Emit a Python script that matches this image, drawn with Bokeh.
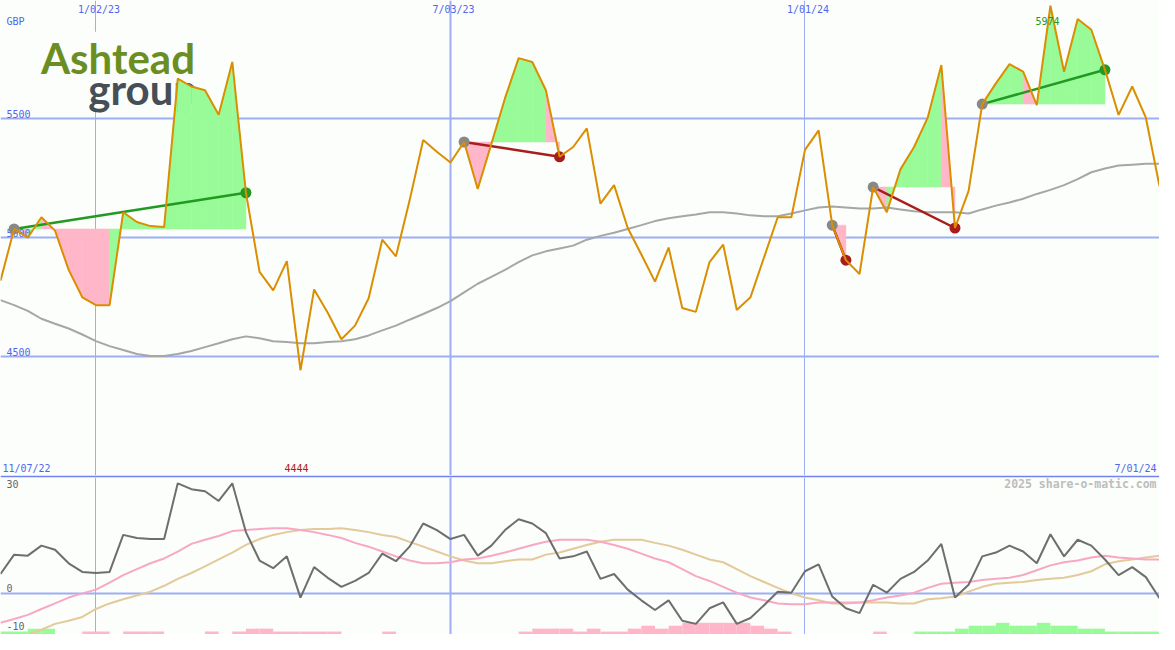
import pandas as pd
from bokeh.plotting import figure
from bokeh.models import Range1d
from bokeh.layouts import column
from bokeh.embed import file_html
from bokeh.resources import INLINE
from bokeh.core.properties import value

# ---------------- data (weekly closes, GBp) ----------------
first_week = "2022-11-14"
price = [4820, 5037, 5000, 5086, 5030, 4865, 4750, 4717, 4717, 5107,
         5066, 5049, 5045, 5668, 5635, 5619, 5516, 5738, 5189, 4857,
         4779, 4902, 4444, 4783, 4685, 4574, 4631, 4746, 4992, 4922,
         5156, 5410, 5361, 5316, 5402, 5205, 5394, 5586, 5754, 5738,
         5619, 5340, 5381, 5459, 5143, 5221, 5041, 4930, 4816, 4959,
         4705, 4689, 4898, 4971, 4697, 4750, 4918, 5086, 5086, 5369,
         5451, 5053, 4906, 4848, 5213, 5107, 5287, 5381, 5504, 5725,
         5041, 5197, 5561, 5648, 5729, 5697, 5557, 5974, 5697, 5918,
         5873, 5705, 5516, 5635, 5504, 5217]
moving_avg = [4738, 4717, 4693, 4660, 4639, 4619, 4594, 4566, 4545, 4529,
              4512, 4504, 4504, 4512, 4525, 4541, 4557, 4574, 4586, 4578,
              4566, 4562, 4557, 4557, 4562, 4566, 4574, 4590, 4611, 4631,
              4656, 4680, 4705, 4734, 4771, 4807, 4836, 4865, 4898, 4926,
              4943, 4955, 4967, 4992, 5008, 5021, 5037, 5053, 5070, 5082,
              5090, 5098, 5107, 5107, 5102, 5094, 5090, 5090, 5102, 5115,
              5127, 5131, 5127, 5123, 5123, 5127, 5119, 5111, 5107, 5107,
              5107, 5102, 5119, 5135, 5148, 5164, 5184, 5201, 5221, 5246,
              5275, 5291, 5303, 5307, 5311, 5311]
oscillator = [5.5, 11.1, 10.8, 13.7, 12.5, 8.6, 6.1, 5.8, 6.1, 16.8,
              15.9, 15.6, 15.6, 31.7, 30.0, 29.4, 26.6, 31.7, 17.6, 9.4,
              7.2, 10.6, -1.3, 7.5, 4.4, 1.8, 3.5, 5.8, 11.4, 9.2,
              13.4, 20.1, 18.2, 15.6, 16.8, 10.8, 13.7, 18.2, 21.3, 20.1,
              17.3, 10.0, 10.6, 12.0, 4.1, 5.5, 1.0, -2.1, -4.9, -2.1,
              -8.0, -8.9, -4.4, -2.7, -8.9, -7.2, -3.5, 0.4, 0.1, 6.3,
              8.3, -1.0, -4.4, -5.8, 2.4, 0.1, 4.1, 6.1, 9.4, 14.2,
              -1.3, 2.4, 10.6, 11.7, 13.7, 12.0, 8.6, 17.0, 10.6, 15.4,
              13.7, 9.7, 5.2, 7.5, 4.6, -1.5]
signal_fast = [-8.6, -7.5, -6.3, -4.6, -3.0, -1.3, -0.1, 1.0, 3.0, 5.2,
               6.9, 8.6, 10.0, 12.0, 14.2, 15.4, 16.5, 17.9, 18.2, 18.5,
               18.7, 18.7, 18.2, 17.6, 16.8, 15.9, 14.5, 13.4, 12.0, 10.6,
               9.4, 8.6, 8.6, 8.9, 9.7, 10.0, 10.8, 11.7, 12.8, 13.9,
               14.8, 15.4, 15.4, 15.4, 14.8, 13.9, 12.8, 11.4, 10.0, 8.9,
               6.9, 4.9, 3.5, 1.8, 0.1, -1.3, -2.1, -3.0, -3.2, -3.2,
               -2.7, -2.7, -2.7, -2.7, -2.1, -1.3, -0.7, 0.1, 1.5, 2.7,
               3.0, 3.2, 3.8, 4.1, 4.4, 5.2, 6.6, 8.0, 8.9, 9.4,
               10.3, 10.8, 10.3, 10.0, 9.7, 9.7]
signal_slow = [-14.8, -13.4, -12.0, -10.6, -8.9, -8.0, -6.9, -4.6, -3.0, -1.8,
               -0.7, 0.4, 2.1, 4.1, 5.8, 7.7, 9.7, 11.7, 13.9, 15.6,
               16.8, 17.6, 18.2, 18.5, 18.5, 18.7, 18.2, 17.6, 16.8, 16.2,
               14.8, 13.4, 12.0, 10.6, 9.4, 8.6, 8.6, 9.2, 9.7, 9.7,
               11.1, 11.7, 12.8, 13.9, 14.8, 15.4, 15.4, 15.4, 14.5, 13.7,
               12.5, 11.1, 9.7, 8.9, 6.9, 4.9, 3.2, 1.5, -0.1, -1.3,
               -2.1, -3.0, -3.0, -2.7, -2.7, -2.7, -3.0, -3.0, -1.8, -1.5,
               -1.0, 0.4, 1.8, 2.7, 3.0, 3.2, 3.8, 4.1, 4.4, 5.2,
               6.3, 8.3, 9.2, 9.7, 10.3, 10.8]
histogram = [1, 1, 2, 2, 0, 0, -1, -1, 0, -1,
             -1, -1, 0, 0, 0, -1, 0, -1, -2, -2,
             -1, -1, -1, -1, -1, 0, 0, 0, -1, 0,
             0, 0, 0, 0, 0, 0, 0, 0, -1, -2,
             -2, -2, -1, -2, -1, -1, -2, -3, -2, -3,
             -4, -4, -4, -4, -4, -3, -2, -1, 0, 0,
             0, 0, 0, 0, -1, 0, 0, 1, 1, 1,
             2, 3, 3, 4, 3, 3, 4, 3, 3, 2,
             2, 1, 1, 1, 1, 1]
signal_start = [1, 34, 61, 64, 72]
signal_end = [18, 41, 62, 70, 81]
price_grid = [4500, 5000, 5500]
price_grid_labels = ["4500", "5000", "5500"]
date_grid = ["2023-01-02", "2023-07-03", "2024-01-01"]
date_grid_labels = ["1/02/23", "7/03/23", "1/01/24"]
osc_grid = [0]
osc_label_values = [30, 0, -10]
osc_labels = ["30", "0", "-10"]
start_label = "11/07/22"
end_label = "7/01/24"
currency = "GBP"
logo_words = ["Ashtead", "group"]
credit = "2025 share-o-matic.com"

# ---------------- styling ----------------
BG = "#fbfefb"
GRID = "#9eaef5"
DIV = "#7282f0"
BLUE_TXT = "#5066ee"
ORANGE = "#db8e00"
MA_GREY = "#a6a6a6"
FILL_UP = "#98fb98"
FILL_DN = "#ffb6c8"
UP_COL = "#229a22"
DN_COL = "#a81c1c"
START_COL = "#888888"
OSC_COL = "#6e6e6e"
FAST_COL = "#f8a8c4"
SLOW_COL = "#e4c99a"
MONO = value("DejaVu Sans Mono")

W, H1, H2 = 1159, 475, 159

epoch = pd.Timestamp("1970-01-01")
def ms(d):
    return (pd.Timestamp(d) - epoch) / pd.Timedelta(milliseconds=1)

dates = pd.date_range(first_week, periods=len(price), freq="7D")
t = [ms(d) for d in dates]
week = t[1] - t[0]
X0, X1 = t[0], t[-1]
Y0, Y1 = 4002, 5996
V0, V1 = -11.97, 33.38

# reference-pixel helpers (reference chart is 1175 px wide)
def xpx(px):
    return X0 + px / 1175 * (X1 - X0)
def ypx(row):
    return Y1 - row / 486.5 * (Y1 - Y0)
def prow(v):
    return (Y1 - v) / (Y1 - Y0) * 486.5
def vpx(row):
    return (607.5 - row) / 3.55
def vrow(v):
    return 607.5 - v * 3.55

common = dict(width=W, x_axis_type=None, y_axis_type=None, toolbar_location=None,
              output_backend="svg", min_border=0, background_fill_color=BG,
              outline_line_color=None)

# ================= price panel =================
p1 = figure(height=H1, x_range=Range1d(X0, X1), y_range=Range1d(Y0, Y1),
            border_fill_color=BG, **common)

date_x = [ms(d) for d in date_grid]
p1.vspan(x=date_x, line_color=GRID, line_width=[1, 2, 1])
p1.hspan(y=price_grid, line_color=GRID, line_width=2)

# company logo (opaque backing, under the data)
p1.quad(left=xpx(37), right=xpx(208), bottom=ypx(114), top=ypx(32),
        fill_color=BG, line_color=None)
p1.text(x=[xpx(41)], y=[ypx(59)], text=[logo_words[0]], text_font=value("Lato"),
        text_font_style="bold", text_font_size="42px", text_color="#6b8e23",
        text_baseline="middle", text_align="left")
p1.text(x=[xpx(89)], y=[ypx(91)], text=[logo_words[1]], text_font=value("Lato"),
        text_font_style="bold", text_font_size="42px", text_color="#464e56",
        text_baseline="middle", text_align="left")

# signal fills
xs, ys, cols = [], [], []
for s, e in zip(signal_start, signal_end):
    base = price[s]
    for i in range(s, e):
        xs.append([t[i], t[i], t[i + 1], t[i + 1]])
        ys.append([base, price[i], price[i + 1], base])
        cols.append(FILL_UP if price[i + 1] > base else FILL_DN)
p1.patches(xs, ys, fill_color=cols, line_color=cols, line_width=0.5)

p1.line(t, moving_avg, line_color=MA_GREY, line_width=2)

seg_col = [UP_COL if price[e] > price[s] else DN_COL for s, e in zip(signal_start, signal_end)]
p1.segment(x0=[t[s] for s in signal_start], y0=[price[s] for s in signal_start],
           x1=[t[e] for e in signal_end], y1=[price[e] for e in signal_end],
           line_color=seg_col, line_width=2.5)

# axis labels (under the markers)
p1.text(x=[xpx(6)] * 3, y=[ypx(prow(v) - 5) for v in price_grid], text=price_grid_labels,
        text_font=MONO, text_font_size="10px", text_color=BLUE_TXT,
        text_baseline="middle", text_align="left")

p1.scatter(x=[t[s] for s in signal_start], y=[price[s] for s in signal_start],
           size=11, fill_color=START_COL, line_color=None)
p1.scatter(x=[t[e] for e in signal_end], y=[price[e] for e in signal_end],
           size=11, fill_color=seg_col, line_color=None)

p1.line(t, price, line_color=ORANGE, line_width=2)

p1.text(x=date_x, y=[ypx(9)] * 3, text=date_grid_labels, x_offset=3,
        text_font=MONO, text_font_size="10px", text_color=BLUE_TXT,
        text_baseline="middle", text_align="center")
p1.text(x=[xpx(6)], y=[ypx(21.5)], text=[currency], text_font=MONO,
        text_font_size="10px", text_color=BLUE_TXT, text_baseline="middle",
        text_align="left")
imax = price.index(max(price))
imin = price.index(min(price))
p1.text(x=[t[imax]], y=[ypx(21)], text=[str(max(price))], x_offset=-3,
        text_font=MONO, text_font_size="10px", text_color=UP_COL,
        text_baseline="middle", text_align="center")
p1.text(x=[t[imin]], y=[ypx(479)], text=[str(min(price))], x_offset=-4,
        text_font=MONO, text_font_size="10px", text_color=DN_COL,
        text_baseline="middle", text_align="center")
p1.text(x=[xpx(2), xpx(1172)], y=[ypx(479)] * 2, text=[start_label, end_label],
        text_font=MONO, text_font_size="10px", text_color=BLUE_TXT,
        text_baseline="middle", text_align=["left", "right"])

# ================= oscillator panel =================
p2 = figure(height=H2, x_range=p1.x_range, y_range=Range1d(V0, V1),
            border_fill_color=DIV, **common)
p2.min_border_top = 2
p2.extra_y_ranges = {"hist": Range1d(0, (650 - 489) / 3)}

p2.vspan(x=date_x, line_color=GRID, line_width=[1, 2, 1])
p2.hspan(y=osc_grid, line_color=GRID, line_width=2)

p2.vbar(x=[ti + week / 2 for ti in t], width=week, bottom=0,
        top=[abs(h) for h in histogram], y_range_name="hist",
        fill_color=[FILL_UP if h > 0 else FILL_DN for h in histogram], line_color=None)

p2.line(t, signal_slow, line_color=SLOW_COL, line_width=2)
p2.line(t, signal_fast, line_color=FAST_COL, line_width=2)
p2.line(t, oscillator, line_color=OSC_COL, line_width=2)

# value labels sit just above their level; the lowest one is pushed down to the panel edge
label_rows = [vrow(v) - 5 for v in osc_label_values]
label_rows[-1] = 641.5
p2.text(x=[xpx(6)] * 3, y=[vpx(r) for r in label_rows],
        text=osc_labels, text_font=MONO, text_font_size="10px", text_color="#666666",
        text_baseline="middle", text_align="left")
p2.text(x=[xpx(1172)], y=[vpx(496)], text=[credit], text_font=MONO,
        text_font_style="bold", text_font_size="11.5px", text_color="#bdbdbd",
        text_baseline="middle", text_align="right")

layout = column(p1, p2, spacing=0)
open("out.html", "w").write(file_html(layout, INLINE))
